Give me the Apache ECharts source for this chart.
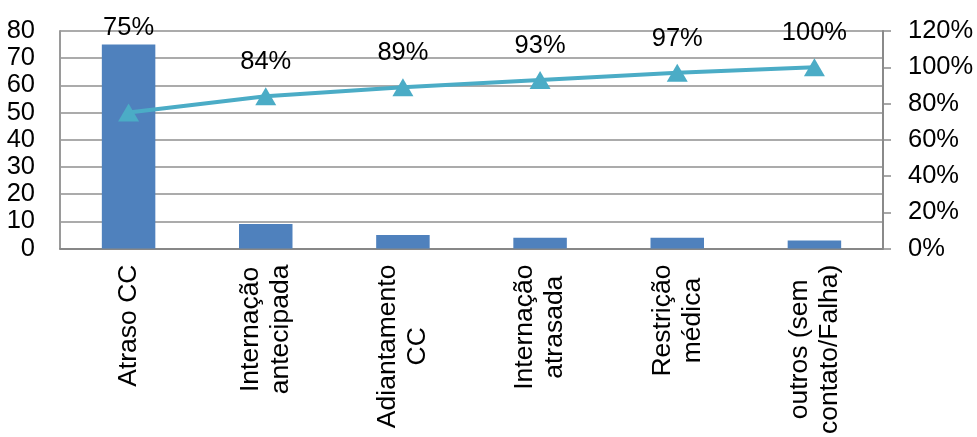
<!DOCTYPE html>
<html>
<head>
<meta charset="utf-8">
<script src="https://cdn.jsdelivr.net/npm/echarts@6/dist/echarts.min.js"></script>
<style>
html,body{margin:0;padding:0;background:#fff;}
#c{width:977px;height:437px;}
</style>
</head>
<body>
<div id="c"></div>
<script>
var categories = ["Atraso CC", "Internação\nantecipada", "Adiantamento\nCC", "Internação\natrasada", "Restrição\nmédica", "outros (sem\ncontato/Falha)"];
var counts = [75, 9, 5, 4, 4, 3];
var cumulativePct = [75, 84, 89, 93, 97, 100];
var leftTicks = {min: 0, max: 80, interval: 10};
var rightTicks = {min: 0, max: 120, interval: 20};

var FONT = "'Liberation Sans', Arial, sans-serif";
var chart = echarts.init(document.getElementById('c'), null, {renderer: 'canvas'});

var lineData = cumulativePct.map(function (v, i) {
  if (i === 0) {
    return {value: v, label: {distance: 63}};
  }
  return v;
});

chart.setOption({
  animation: false,
  backgroundColor: '#fff',
  grid: {left: 60, right: 94, top: 31, bottom: 185, containLabel: false},
  xAxis: {
    type: 'category',
    data: categories,
    axisLine: {show: true, lineStyle: {color: '#878787', width: 2}},
    axisTick: {show: false},
    splitLine: {show: false},
    axisLabel: {
      interval: 0,
      rotate: 90,
      margin: 16,
      color: '#000',
      fontFamily: FONT,
      fontSize: 26.5,
      lineHeight: 30,
      formatter: function (v) {
        return v.split('\n').map(function (s) { return '{c|' + s + '}'; }).join('\n');
      },
      rich: {
        c: {align: 'center', fontSize: 26.5, lineHeight: 30, fontFamily: FONT, color: '#000'}
      }
    }
  },
  yAxis: [
    {
      type: 'value',
      min: leftTicks.min, max: leftTicks.max, interval: leftTicks.interval,
      axisLine: {show: true, lineStyle: {color: '#9a9a9a', width: 2}},
      axisTick: {show: false},
      splitLine: {show: true, lineStyle: {color: '#8f8f8f', width: 1.5}},
      axisLabel: {color: '#000', fontFamily: FONT, fontSize: 25.5, margin: 25}
    },
    {
      type: 'value',
      position: 'right',
      min: rightTicks.min, max: rightTicks.max, interval: rightTicks.interval,
      axisLine: {show: true, lineStyle: {color: '#8a8a8a', width: 2}},
      axisTick: {show: true, length: 8, lineStyle: {color: '#8a8a8a', width: 1.5}},
      splitLine: {show: false},
      axisLabel: {color: '#000', fontFamily: FONT, fontSize: 25.5, margin: 25, formatter: '{value}%'}
    }
  ],
  series: [
    {
      type: 'bar',
      data: counts,
      yAxisIndex: 0,
      barWidth: '39%',
      itemStyle: {color: '#4F81BD'},
      z: 2
    },
    {
      type: 'line',
      data: lineData,
      yAxisIndex: 1,
      symbol: 'triangle',
      symbolSize: [21, 18],
      showAllSymbol: true,
      lineStyle: {color: '#4BACC6', width: 4},
      itemStyle: {color: '#4BACC6'},
      label: {
        show: true,
        position: 'top',
        distance: 12,
        color: '#000',
        fontFamily: FONT,
        fontSize: 25.5,
        formatter: '{c}%'
      },
      z: 3
    }
  ]
});
</script>
</body>
</html>
